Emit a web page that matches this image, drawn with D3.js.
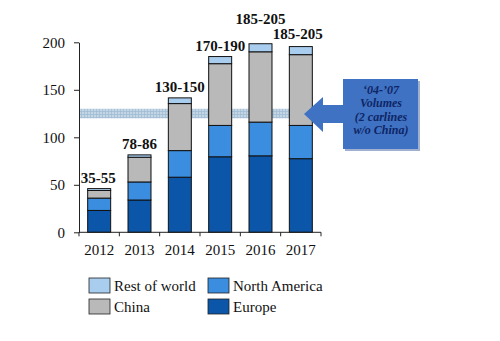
<!DOCTYPE html>
<html><head><meta charset="utf-8">
<script src="https://cdn.jsdelivr.net/npm/d3@7"></script>
<style>body{margin:0;background:#fff}svg{display:block}</style>
</head><body>
<script>
const years = ["2012","2013","2014","2015","2016","2017"];
const europe = [23, 34, 58, 79.5, 80.5, 77.5];
const northAmerica = [13, 19, 28, 33, 35.5, 35];
const china = [8, 26, 49.5, 65, 74, 74.5];
const restOfWorld = [2, 2.5, 6, 7.5, 8.5, 8.5];
const rangeLabels = ["35-55","78-86","130-150","170-190","185-205","185-205"];
const labelValues = [52, 88, 148, 191, 219, 203.5];
const yTicks = [0, 50, 100, 150, 200];
const band = [120, 130];
const seriesNames = ["Europe","North America","China","Rest of world"];
const colors = {"Europe":"#0b56a8","North America":"#3a8ddf","China":"#b9b9b9","Rest of world":"#a9cdef"};
const calloutLines = ["\u201804-\u201907","Volumes","(2 carlines","w/o China)"];

const W=500,H=341;
const svg=d3.select("body").append("svg").attr("width",W).attr("height",H);
const defs=svg.append("defs");
const pat=defs.append("pattern").attr("id","hatch").attr("patternUnits","userSpaceOnUse").attr("width",3).attr("height",3);
pat.append("rect").attr("width",3).attr("height",3).attr("fill","#c3d6e6");
pat.append("path").attr("d","M0,0.5H3M0.5,0V3").attr("stroke","#9fb9d2").attr("stroke-width",0.7);

const x=d3.scaleBand().domain(years).range([79,321]).paddingInner(0.43).paddingOuter(0.215);
const y=d3.scaleLinear().domain([0,200]).range([232.3,42.3]);
const font="'Liberation Serif','Times New Roman',serif";

// band behind bars
svg.append("rect").attr("x",79).attr("width",290-79)
  .attr("y",y(band[1])).attr("height",y(band[0])-y(band[1])).attr("fill","url(#hatch)");

const data=years.map((yr,i)=>({year:yr,"Europe":europe[i],"North America":northAmerica[i],"China":china[i],"Rest of world":restOfWorld[i]}));
const stack=d3.stack().keys(seriesNames)(data);
svg.append("g").selectAll("g").data(stack).join("g").attr("fill",d=>colors[d.key])
  .selectAll("rect").data(d=>d).join("rect")
  .attr("x",d=>x(d.data.year)).attr("width",x.bandwidth())
  .attr("y",d=>y(d[1])).attr("height",d=>y(d[0])-y(d[1]))
  .attr("stroke","#111").attr("stroke-width",1);

// axes
const yAxis=svg.append("g").attr("transform","translate(79,0)").call(d3.axisLeft(y).tickValues(yTicks).tickSize(5).tickPadding(9).tickSizeOuter(0));
yAxis.select(".domain").attr("stroke","#222");
yAxis.selectAll("line").attr("stroke","#222");
yAxis.selectAll("text").attr("font-family",font).attr("font-size",15).attr("fill","#111");

const xAxis=svg.append("g").attr("transform","translate(0,232.3)");
xAxis.append("line").attr("x1",79).attr("x2",321).attr("stroke","#222");
const bounds=years.map(yv=>x(yv)-x.step()*x.paddingInner()/2).concat([321]);
xAxis.selectAll("line.t").data(bounds).join("line").attr("class","t").attr("x1",d=>d).attr("x2",d=>d).attr("y1",0).attr("y2",4).attr("stroke","#222");
xAxis.selectAll("text").data(years).join("text").attr("x",d=>x(d)+x.bandwidth()/2).attr("y",22.5)
  .attr("text-anchor","middle").attr("font-family",font).attr("font-size",15).attr("fill","#111").text(d=>d);

// range labels
svg.append("g").selectAll("text").data(years).join("text")
  .attr("x",(d,i)=>x(d)+x.bandwidth()/2+ (i==0?-1:(i==5?-3:0))).attr("y",(d,i)=>y(labelValues[i]))
  .attr("text-anchor","middle").attr("font-family",font).attr("font-weight","bold").attr("font-size",15).attr("fill","#111")
  .text((d,i)=>rangeLabels[i]);

// callout
const cg=svg.append("g");
cg.append("rect").attr("x",345).attr("y",81).attr("width",75).attr("height",70).attr("fill","#2a4f96").attr("opacity",0.45);
cg.append("rect").attr("x",343).attr("y",79).attr("width",75).attr("height",70).attr("fill","#3f72c2");
cg.append("path").attr("d","M304,114 L323,97 L323,105 L343,105 L343,123 L323,123 L323,132 Z").attr("fill","#3f72c2");
cg.selectAll("text").data(calloutLines).join("text").attr("x",381).attr("y",(d,i)=>94+i*13.4)
  .attr("text-anchor","middle").attr("font-family",font).attr("font-weight","bold").attr("font-style","italic")
  .attr("font-size",12).attr("fill","#0e2566").text(d=>d);

// legend
const legendItems=[["Rest of world",89,278],["North America",208,278],["China",89,299],["Europe",208,299]];
const lg=svg.append("g").selectAll("g").data(legendItems).join("g").attr("transform",d=>`translate(${d[1]},${d[2]})`);
lg.append("rect").attr("width",21).attr("height",15).attr("fill",d=>colors[d[0]]).attr("stroke","#222").attr("stroke-width",0.8);
lg.append("text").attr("x",25).attr("y",12.5).attr("font-family",font).attr("font-size",15).attr("fill","#111").text(d=>d[0]);
</script>
</body></html>
